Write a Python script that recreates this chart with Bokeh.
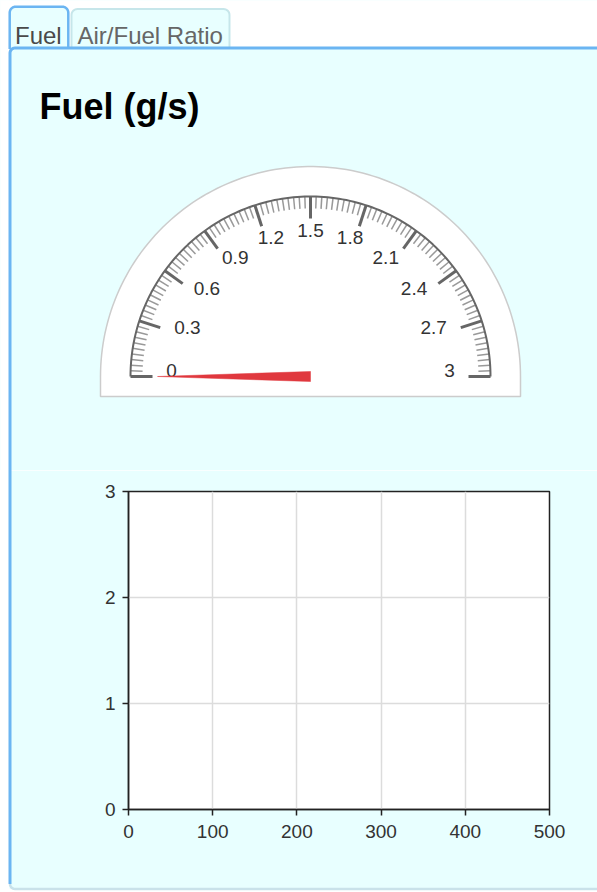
import numpy as np
from bokeh.plotting import figure
from bokeh.models import Range1d, FixedTicker, ColumnDataSource
from bokeh.core.properties import value
from bokeh.embed import file_html
from bokeh.resources import INLINE

# ---------------- data ----------------
tab_labels = ["Fuel", "Air/Fuel Ratio"]
title_text = "Fuel (g/s)"
gauge_min = 0.0
gauge_max = 3.0
gauge_major_step = 0.3
gauge_minor_step = 0.03
gauge_value = 0.0
gauge_tick_labels = ["0", "0.3", "0.6", "0.9", "1.2", "1.5", "1.8", "2.1", "2.4", "2.7", "3"]
chart_x_ticks = [0, 100, 200, 300, 400, 500]
chart_y_ticks = [0, 1, 2, 3]
chart_x_range = (0, 500)
chart_y_range = (0, 3)
fuel_time = []   # empty series (no samples yet)
fuel_rate = []

# ---------------- styles ----------------
W = 597
H_TOP = 470
H_CHART = 422
PANEL = "#e8ffff"
BLUE = "#6bb5f2"
TAB2_BORDER = "#c6e6ea"
BOTTOM_BORDER = "#c9e2ea"
FONT = "Liberation Sans"

top = figure(width=W, height=H_TOP, x_range=Range1d(0, W), y_range=Range1d(H_TOP, 0),
             output_backend="svg", toolbar_location=None, min_border=0,
             x_axis_location=None, y_axis_location=None)
top.grid.visible = False
top.outline_line_color = None
top.background_fill_color = PANEL
top.border_fill_color = PANEL

# white page area around the panel
top.quad(left=[-5], right=[W + 5], top=[-5], bottom=[47.5], fill_color="white", line_color=None)
top.quad(left=[-5], right=[9], top=[-5], bottom=[H_TOP + 5], fill_color="white", line_color=None)


def rounded_top(x0, x1, y0, y1, r, n=8):
    xs, ys = [x0], [y1]
    for a in np.linspace(np.pi, 1.5 * np.pi, n):
        xs.append(x0 + r + r * np.cos(a)); ys.append(y0 + r + r * np.sin(a))
    for a in np.linspace(1.5 * np.pi, 2 * np.pi, n):
        xs.append(x1 - r + r * np.cos(a)); ys.append(y0 + r + r * np.sin(a))
    xs.append(x1); ys.append(y1)
    return xs, ys


# tabs
tab_boxes = [(9.2, 67.8, 6.2, 48.5, BLUE, 2.5), (71, 229, 8.5, 47, TAB2_BORDER, 2)]
for (x0, x1, y0, y1, col, lw) in tab_boxes:
    xs, ys = rounded_top(x0, x1, y0, y1, 6)
    top.patch(xs, ys, fill_color=PANEL, line_color=None)
    top.line(xs, ys, line_color=col, line_width=lw)

top.text(x=[14.5, 77], y=[35, 35], text=tab_labels, text_font=value(FONT),
         text_font_size="24px", text_color=["#4a4a4a", "#666666"], text_baseline="alphabetic")

# panel
px0, py0, r = 9.5, 47.5, 5
pxs = [px0, px0]
pys = [H_TOP + 20, py0 + r]
for a in np.linspace(np.pi, 1.5 * np.pi, 8):
    pxs.append(px0 + r + r * np.cos(a)); pys.append(py0 + r + r * np.sin(a))
pxs += [W + 20, W + 20]
pys += [py0, H_TOP + 20]
top.patch(pxs, pys, fill_color=PANEL, line_color=BLUE, line_width=3)

# title
top.text(x=[39], y=[106], text=[title_text], text_font=value(FONT), text_font_size="36px",
         text_font_style="bold", text_color="#000000", text_baseline="alphabetic")

# gauge
cx, cy = 310, 376
R_BG, BG_BOTTOM = 210, 396
R_SCALE, R_MAJ_IN, R_MIN_IN, R_NEEDLE = 180, 158, 168, 153
R_LAB_X, R_LAB_X_END, R_LAB_Y, LAB_LIFT = 128, 11, 140, 6


def ang(v):
    return np.pi - np.pi * (v - gauge_min) / (gauge_max - gauge_min)


def pt(v, rad):
    a = ang(v)
    return cx + rad * np.cos(a), cy - rad * np.sin(a)


bg_a = np.linspace(np.pi, 0, 120)
bxs = [cx - R_BG] + list(cx + R_BG * np.cos(bg_a)) + [cx + R_BG, cx - R_BG]
bys = [BG_BOTTOM] + list(cy - R_BG * np.sin(bg_a)) + [BG_BOTTOM, BG_BOTTOM]
top.patch(bxs, bys, fill_color="white", line_color="#cccccc", line_width=1.5)

n_minor = int(round((gauge_max - gauge_min) / gauge_minor_step))
minor_vals = [gauge_min + i * gauge_minor_step for i in range(n_minor + 1)]
n_major = int(round((gauge_max - gauge_min) / gauge_major_step))
major_vals = [gauge_min + i * gauge_major_step for i in range(n_major + 1)]
major_set = set(round(v, 6) for v in major_vals)
mv = [v for v in minor_vals if round(v, 6) not in major_set]

mx0, my0 = zip(*[pt(v, R_SCALE) for v in mv])
mx1, my1 = zip(*[pt(v, R_MIN_IN) for v in mv])
top.segment(x0=list(mx0), y0=list(my0), x1=list(mx1), y1=list(my1), line_color="#999999", line_width=1.5)

Mx0, My0 = zip(*[pt(v, R_SCALE) for v in major_vals])
Mx1, My1 = zip(*[pt(v, R_MAJ_IN) for v in major_vals])
top.segment(x0=list(Mx0), y0=list(My0), x1=list(Mx1), y1=list(My1), line_color="#666666", line_width=3)

arc_v = np.linspace(gauge_min, gauge_max, 150)
ax_, ay_ = zip(*[pt(v, R_SCALE) for v in arc_v])
top.line(list(ax_), list(ay_), line_color="#666666", line_width=2)

lab_x, lab_y = [], []
for v in major_vals:
    a = ang(v)
    rx = R_LAB_X + R_LAB_X_END * abs(np.cos(a)) ** 40
    lab_x.append(cx + rx * np.cos(a))
    lab_y.append(cy - R_LAB_Y * np.sin(a) - LAB_LIFT)
top.text(x=lab_x, y=lab_y, text=gauge_tick_labels, text_font=value(FONT),
         text_font_size="19px", text_color="#333333", text_align="center", text_baseline="middle")

# needle
a = ang(gauge_value)
hw = 5
tipx, tipy = pt(gauge_value, R_NEEDLE)
nx = [cx + hw * np.sin(a), tipx, cx - hw * np.sin(a)]
ny = [cy + hw * np.cos(a), tipy, cy - hw * np.cos(a)]
top.patch(nx, ny, fill_color="#e0383e", line_color="#e0383e", line_width=0.5)

# ---------------- chart ----------------
BL, BR, BT, BB = 128, 48, 21, 83
chart = figure(width=W, height=H_CHART, x_range=Range1d(*chart_x_range), y_range=Range1d(*chart_y_range),
               output_backend="svg", toolbar_location=None,
               min_border_left=BL, min_border_right=BR, min_border_top=BT, min_border_bottom=BB)
chart.background_fill_color = "white"
chart.border_fill_color = PANEL
chart.outline_line_color = "#222222"
chart.outline_line_width = 1.5

chart.xaxis.ticker = FixedTicker(ticks=chart_x_ticks)
chart.yaxis.ticker = FixedTicker(ticks=chart_y_ticks)
chart.xgrid.ticker = FixedTicker(ticks=chart_x_ticks)
chart.ygrid.ticker = FixedTicker(ticks=chart_y_ticks)
for ax in (chart.xaxis, chart.yaxis):
    ax.major_label_text_font = FONT
    ax.major_label_text_font_size = "19px"
    ax.major_label_text_color = "#333333"
    ax.axis_line_color = "#222222"
    ax.axis_line_width = 1.5
    ax.major_tick_line_color = "#222222"
    ax.major_tick_line_width = 1.5
    ax.major_tick_in = 0
    ax.major_tick_out = 6
    ax.minor_tick_line_color = None
chart.xaxis.major_label_standoff = 9
chart.yaxis.major_label_standoff = 7
chart.grid.grid_line_color = "#dcdcdc"
chart.grid.grid_line_width = 1.5

src = ColumnDataSource(data=dict(t=fuel_time, f=fuel_rate))
chart.line("t", "f", source=src, line_color="#2f7ed8", line_width=2)

# canvas-pixel ranges for the panel border drawn in the border region
chart.extra_x_ranges = {"cpx": Range1d(BL, W - BR)}
chart.extra_y_ranges = {"cpy": Range1d(H_CHART - BB, BT)}
# white strip outside panel
chart.quad(left=[-5], right=[9], top=[-5], bottom=[H_CHART + 5], x_range_name="cpx", y_range_name="cpy",
           fill_color="white", line_color=None, level="overlay")
# bottom border with rounded corner
rb = 5
bx = [9.5, 9.5]
by = [-5, 418.5 - rb]
for aa in np.linspace(np.pi, 0.5 * np.pi, 8):
    bx.append(9.5 + rb + rb * np.cos(aa)); by.append(418.5 - rb + rb * np.sin(aa))
bx.append(W + 20); by.append(418.5)
chart.quad(left=[8], right=[W + 20], top=[418.5], bottom=[H_CHART + 5], x_range_name="cpx", y_range_name="cpy",
           fill_color="white", line_color=None, level="overlay")
chart.line(bx[2:], by[2:], x_range_name="cpx", y_range_name="cpy",
           line_color=BOTTOM_BORDER, line_width=2.5, level="overlay")
chart.line(bx[:3], by[:3], x_range_name="cpx", y_range_name="cpy",
           line_color=BLUE, line_width=3, level="overlay")

open("out.html", "w").write(file_html([top, chart], INLINE))
